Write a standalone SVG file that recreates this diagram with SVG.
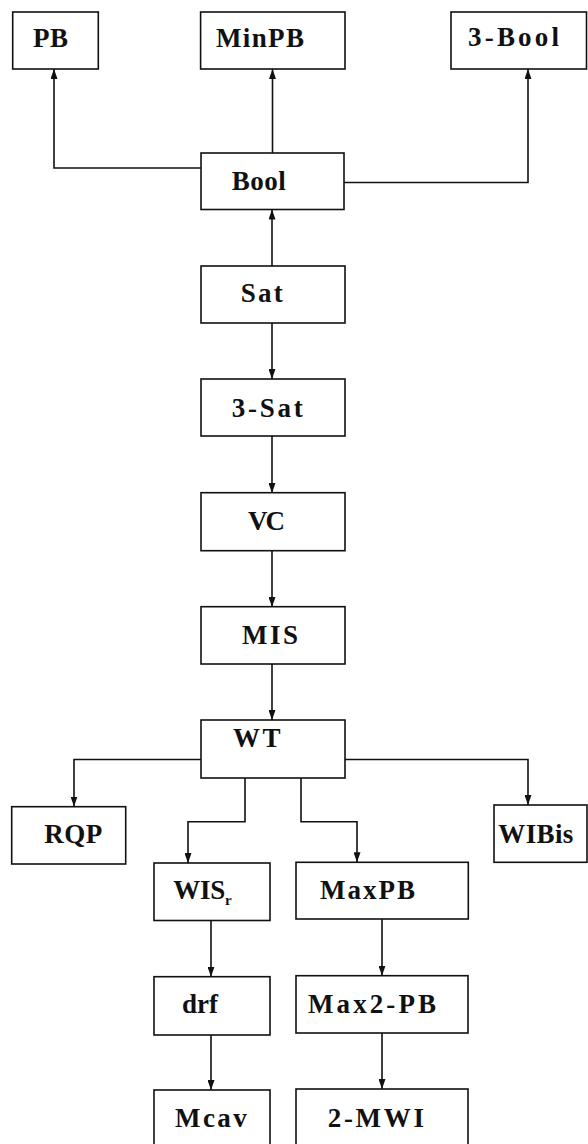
<svg xmlns="http://www.w3.org/2000/svg" width="588" height="1144" viewBox="0 0 588 1144">
<style>
.box{fill:#fff;stroke:#111;stroke-width:1.6}
.lbl{font-family:"Liberation Serif","Times New Roman",serif;font-weight:bold;font-size:27px;fill:#111}
.sub{font-family:"Liberation Serif","Times New Roman",serif;font-weight:bold;font-size:15px;fill:#111}
.con{fill:none;stroke:#111;stroke-width:1.6;marker-end:url(#ah)}
</style>
<defs>
<marker id="ah" markerUnits="userSpaceOnUse" markerWidth="10" markerHeight="7" viewBox="0 0 10 7" refX="10" refY="3.5" orient="auto">
<path d="M0,0 L10,3.5 L0,7 z" fill="#111"/>
</marker>
</defs>
<rect width="588" height="1144" fill="#fff"/>
<g id="connectors">
<path class="con" d="M201,168 H54 V69"/>
<path class="con" d="M272.5,153 V69"/>
<path class="con" d="M344,182.5 H528 V69"/>
<path class="con" d="M272,266 V209.5"/>
<path class="con" d="M272,323 V379"/>
<path class="con" d="M272,436 V493"/>
<path class="con" d="M272,551 V607"/>
<path class="con" d="M272,664 V720"/>
<path class="con" d="M201,759.5 H74 V806.5"/>
<path class="con" d="M345,759.5 H528 V805"/>
<path class="con" d="M245,778 V821.7 H188 V863"/>
<path class="con" d="M301,778 V821.7 H357 V862.3"/>
<path class="con" d="M211,920.5 V976.7"/>
<path class="con" d="M211,1035 V1090"/>
<path class="con" d="M382,919 V975.7"/>
<path class="con" d="M382,1033 V1089"/>
</g>
<g id="PB"><rect class="box" x="12.7" y="12" width="85.6" height="57"/><text class="lbl" x="33" y="47" textLength="35" lengthAdjust="spacing">PB</text></g>
<g id="MinPB"><rect class="box" x="200.6" y="12" width="144.4" height="57"/><text class="lbl" x="216" y="47" textLength="88" lengthAdjust="spacing">MinPB</text></g>
<g id="3-Bool"><rect class="box" x="451" y="12" width="135.5" height="57"/><text class="lbl" x="468" y="46" textLength="91" lengthAdjust="spacing">3-Bool</text></g>
<g id="Bool"><rect class="box" x="201" y="153" width="143" height="56.5"/><text class="lbl" x="231.7" y="190" textLength="54" lengthAdjust="spacing">Bool</text></g>
<g id="Sat"><rect class="box" x="201" y="266" width="144" height="57"/><text class="lbl" x="240.7" y="302" textLength="42" lengthAdjust="spacing">Sat</text></g>
<g id="3-Sat"><rect class="box" x="201" y="379" width="144" height="57"/><text class="lbl" x="231.7" y="416.7" textLength="71" lengthAdjust="spacing">3-Sat</text></g>
<g id="VC"><rect class="box" x="201" y="492.7" width="144" height="58"/><text class="lbl" x="248" y="530" textLength="37" lengthAdjust="spacing">VC</text></g>
<g id="MIS"><rect class="box" x="201" y="606.7" width="144" height="57.3"/><text class="lbl" x="242" y="644" textLength="56" lengthAdjust="spacing">MIS</text></g>
<g id="WT"><rect class="box" x="201" y="720" width="144" height="58"/><text class="lbl" x="233" y="747" textLength="47.5" lengthAdjust="spacing">WT</text></g>
<g id="RQP"><rect class="box" x="11.7" y="806.7" width="114" height="57.3"/><text class="lbl" x="44.3" y="843.3" textLength="58" lengthAdjust="spacing">RQP</text></g>
<g id="WIBis"><rect class="box" x="494" y="805" width="93" height="57.3"/><text class="lbl" x="498.3" y="842.7" textLength="75" lengthAdjust="spacing">WIBis</text></g>
<g id="WISr"><rect class="box" x="154" y="863" width="116" height="57.5"/><text class="lbl" x="173.3" y="898.5" textLength="52" lengthAdjust="spacing">WIS</text><text class="sub" x="225" y="905">r</text></g>
<g id="MaxPB"><rect class="box" x="296" y="862.3" width="172.3" height="56.7"/><text class="lbl" x="320" y="899" textLength="95" lengthAdjust="spacing">MaxPB</text></g>
<g id="drf"><rect class="box" x="154" y="976.7" width="116" height="58.3"/><text class="lbl" x="182" y="1013" textLength="36" lengthAdjust="spacing">drf</text></g>
<g id="Max2-PB"><rect class="box" x="296" y="975.7" width="172" height="57.3"/><text class="lbl" x="308" y="1012.7" textLength="128" lengthAdjust="spacing">Max2-PB</text></g>
<g id="Mcav"><rect class="box" x="154" y="1090" width="116" height="58"/><text class="lbl" x="175" y="1126.7" textLength="71.7" lengthAdjust="spacing">Mcav</text></g>
<g id="2-MWI"><rect class="box" x="296" y="1089" width="172" height="59"/><text class="lbl" x="327.7" y="1126.7" textLength="96.3" lengthAdjust="spacing">2-MWI</text></g>
</svg>
